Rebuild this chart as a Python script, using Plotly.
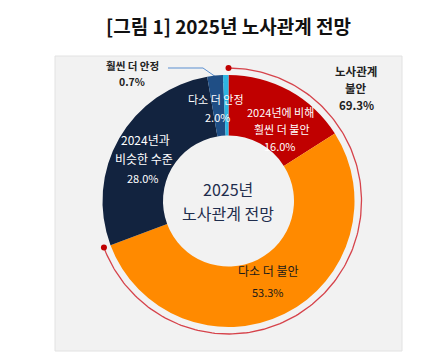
import math
import plotly.graph_objects as go

# ---- data ----
categories = ["2024년에 비해 훨씬 더 불안", "다소 더 불안", "2024년과 비슷한 수준", "다소 더 안정", "훨씬 더 안정"]
values = [16.0, 53.3, 28.0, 2.0, 0.7]
colors = ["#C00000", "#FF8A00", "#12233F", "#1F4E85", "#2DB5E2"]
unrest_total = 69.3  # 노사관계 불안 (16.0 + 53.3)
title_text = "[그림 1] 2025년 노사관계 전망"
center_lines = ["2025년", "노사관계 전망"]

PAGE_W, PAGE_H = 432, 357
OFF = 8  # default body margin of the html page
W, H = PAGE_W - OFF, PAGE_H - OFF
FONT = "Noto Sans CJK KR"

cx, cy = 228.5, 201.0   # donut centre (page px)
R = 126.0                # donut radius (px)
RA = 133.0               # outer arc radius (px)

fig = go.Figure()

fig.add_trace(go.Pie(
    labels=categories, values=values, sort=False, direction="clockwise",
    rotation=0, hole=0.52, textinfo="none", hoverinfo="label+percent",
    marker=dict(colors=colors, line=dict(width=0)),
    domain=dict(x=[(cx - OFF - R) / W, (cx - OFF + R) / W],
                y=[(PAGE_H - cy - R) / H, (PAGE_H - cy + R) / H]),
    showlegend=False,
))

# outer arc for 노사관계 불안 share
frac = unrest_total / 100.0
n = 200
ts = [2 * math.pi * frac * i / n for i in range(n + 1)]
ax = [cx + RA * math.sin(t) for t in ts]
ay = [cy - RA * math.cos(t) for t in ts]
fig.add_trace(go.Scatter(x=ax, y=ay, mode="lines", line=dict(color="#D6434B", width=1.3),
                         hoverinfo="skip", showlegend=False))
fig.add_trace(go.Scatter(x=[ax[0], ax[-1]], y=[ay[0], ay[-1]], mode="markers",
                         marker=dict(color="#C00000", size=6), hoverinfo="skip", showlegend=False))

# leader line for smallest slice
fig.add_trace(go.Scatter(x=[168, 203, 226], y=[68, 68, 84], mode="lines",
                         line=dict(color="#5B8FD0", width=1), hoverinfo="skip", showlegend=False))

fig.update_xaxes(range=[OFF, PAGE_W], visible=False, fixedrange=True)
fig.update_yaxes(range=[PAGE_H, OFF], visible=False, fixedrange=True)

ann = []
def add(text, x, y, size, color, bold=False):
    ann.append(dict(x=x, y=y, xref="x", yref="y", text=(f"<b>{text}</b>" if bold else text),
                    showarrow=False, font=dict(family=FONT, size=size, color=color),
                    xanchor="center", yanchor="middle", borderpad=0))

pct = lambda v: f"{v:.1f}%"

# red slice
add("2024년에 비해", 280, 112, 11, "white")
add("훨씬 더 불안", 282, 129, 11, "white")
add(pct(values[0]), 280, 146, 11, "white")
# orange slice
add("다소 더 불안", 268, 270, 12, "#1a1a1a")
add(pct(values[1]), 268, 292, 11, "#1a1a1a")
# navy slice
add("2024년과", 145, 139, 12, "white")
add("비슷한 수준", 144, 158, 12, "white")
add(pct(values[2]), 143, 178, 11, "white")
# mid-blue slice
add("다소 더 안정", 216, 99, 11, "white")
add(pct(values[3]), 217, 117, 11, "white")
# cyan slice (outside)
add("훨씬 더 안정", 132, 65, 10.5, "#222222", bold=True)
add(pct(values[4]), 132, 81, 10.5, "#222222", bold=True)
# total unrest
add("노사관계", 356, 71, 11.5, "#222222", bold=True)
add("불안", 356, 88, 11.5, "#222222", bold=True)
add(pct(unrest_total), 356, 105, 11.5, "#222222", bold=True)
# centre
add(center_lines[0], 228, 189, 16, "#1F2D4D")
add(center_lines[1], 228, 213, 16, "#1F2D4D")
# title
add(title_text, 228, 25, 19, "#111111", bold=True)

fig.update_layout(
    width=W, height=H, margin=dict(l=0, r=0, t=0, b=0),
    paper_bgcolor="white", plot_bgcolor="rgba(0,0,0,0)",
    annotations=ann,
    shapes=[dict(type="rect", xref="x", yref="y", x0=55, y0=56, x1=402, y1=351,
                 fillcolor="#F2F2F2", line=dict(color="#E2E2E2", width=1), layer="below")],
)

fig.write_html("out.html")
